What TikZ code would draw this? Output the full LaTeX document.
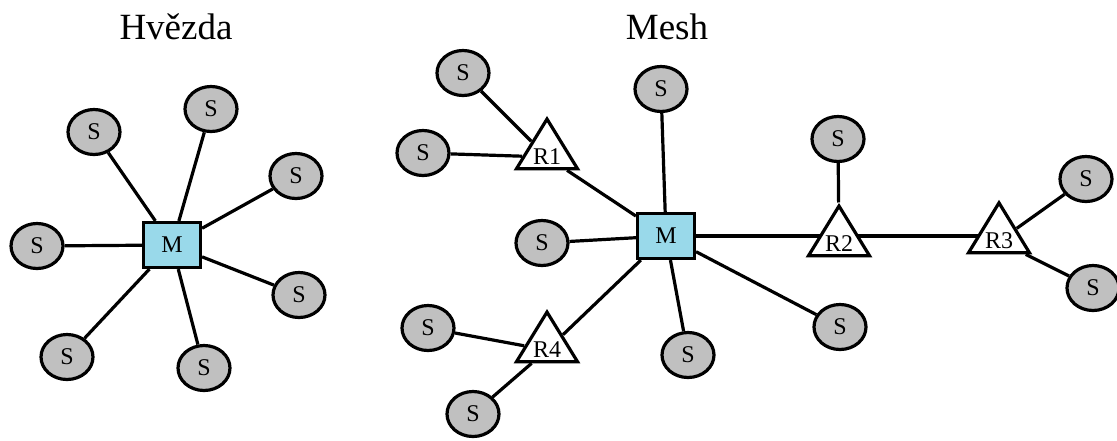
\documentclass[tikz,border=0pt]{standalone}
\usepackage{fontspec}
\setmainfont{Liberation Serif}
\usetikzlibrary{shapes.geometric,backgrounds}
\definecolor{sgray}{RGB}{192,192,192}
\definecolor{mblue}{RGB}{153,217,234}

\begin{document}
\begin{tikzpicture}[x=1pt,y=-1pt,
	slave/.style={ellipse,draw,fill=sgray,line width=3.2pt,minimum width=52pt,minimum height=45pt,inner sep=0pt,font=\fontsize{24}{26}\selectfont},
	master/.style={rectangle,draw,fill=mblue,line width=3.2pt,minimum width=57pt,minimum height=45pt,inner sep=0pt,font=\fontsize{24}{26}\selectfont},
	router/.style={isosceles triangle,shape border rotate=90,isosceles triangle stretches,draw,fill=white,line width=3.2pt,minimum width=61pt,minimum height=46pt,inner sep=0pt,font=\fontsize{24}{26}\selectfont},
	link/.style={line width=3.2pt},
	title/.style={font=\fontsize{37}{40}\selectfont}]
			\useasboundingbox (0,0) rectangle (1117,440);
			% Hvezda
			\draw (176,27) node [title] (th) {Hvězda};
			\draw (172,245) node [master] (m) {M};
			\draw (94,132) node [slave] (s1) {S};
			\draw (211,109) node [slave] (s2) {S};
			\draw (296,176) node [slave] (s3) {S};
			\draw (37,246) node [slave] (s4) {S};
			\draw (299,295) node [slave] (s5) {S};
			\draw (67,357) node [slave] (s6) {S};
			\draw (204,368) node [slave] (s7) {S};
			\path[link]
				(m) edge (s1)
					edge (s2)
					edge (s3)
					edge (s4)
					edge (s5)
					edge (s6)
					edge (s7);
			% Mesh
			\draw (667,27) node [title] (tm) {Mesh};
			\draw (666,236) node [master] (mm) {M};
			\draw (547,157) node [router] (r1) {R1};
			\draw (839,244) node [router] (r2) {R2};
			\draw (999,241) node [router] (r3) {R3};
			\draw (547,350) node [router] (r4) {R4};
			\draw (463,73) node [slave] (a1) {S};
			\draw (423,153) node [slave] (a2) {S};
			\draw (661,89) node [slave] (a3) {S};
			\draw (542,243) node [slave] (a4) {S};
			\draw (428,328) node [slave] (a5) {S};
			\draw (473,414) node [slave] (a6) {S};
			\draw (688,355) node [slave] (a7) {S};
			\draw (840,327) node [slave] (a8) {S};
			\draw (838,139) node [slave] (a9) {S};
			\draw (1086,179) node [slave] (a10) {S};
			\draw (1093,288) node [slave] (a11) {S};
			\coordinate (h2) at (mm -| r2.apex);
			\coordinate (h3) at (mm -| r3.apex);
			\path[link]
				(mm) edge (r1)
					edge (a3)
					edge (a4)
					edge (r4)
					edge (a7)
					edge (a8)
				(r1) edge (a1)
					edge (a2)
				(r4) edge (a5)
					edge (a6)
				(r2) edge (a9)
				(r3) edge (a10)
					edge (a11);
			% horizontal line behind the routers
			\begin{pgfonlayer}{background}
				\path[link]
					(mm) edge (h2)
					(h2) edge (h3);
			\end{pgfonlayer}
		\end{tikzpicture}
\end{document}
